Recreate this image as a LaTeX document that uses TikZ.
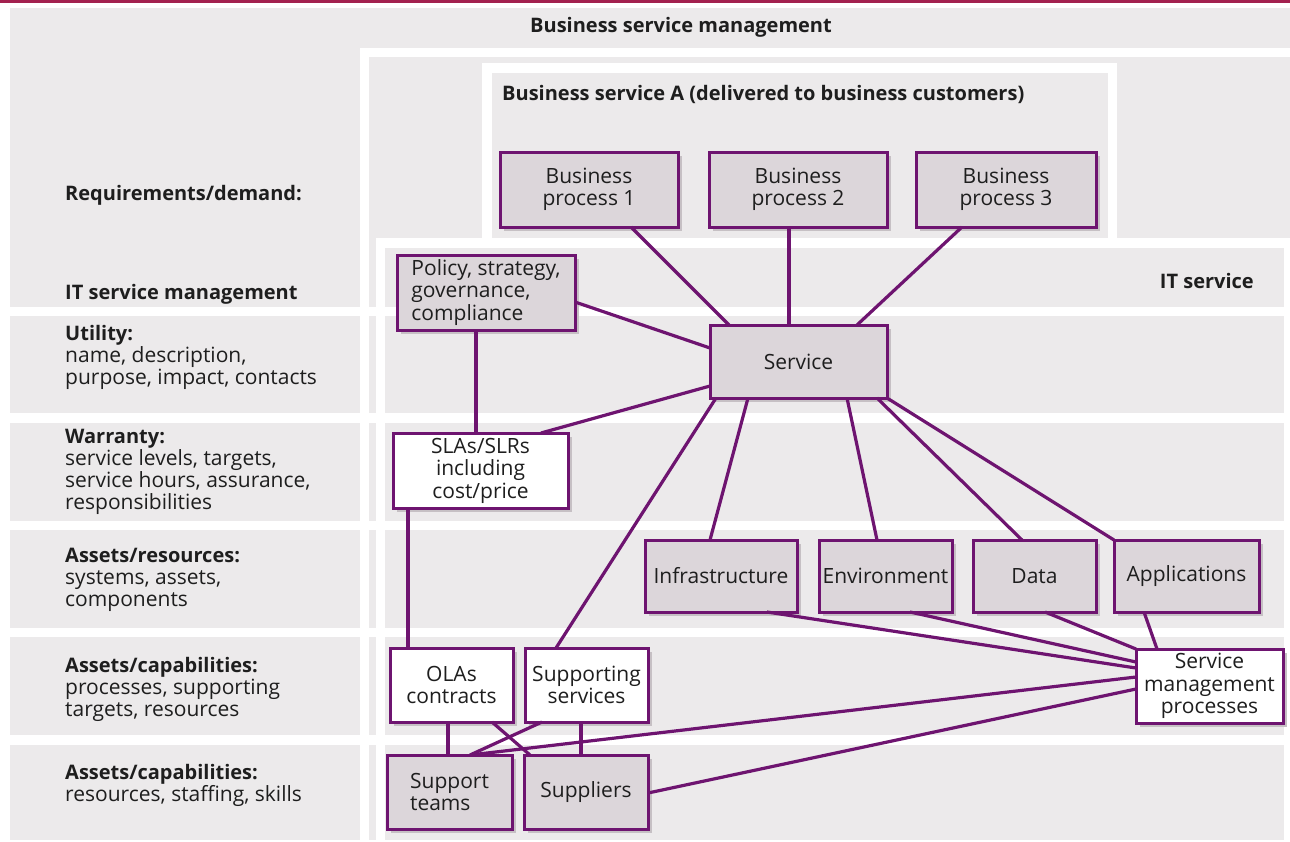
\documentclass[tikz,border=0pt]{standalone}
\usepackage{fontspec}
\setmainfont{Open Sans}
\usetikzlibrary{shadows}
\definecolor{bg}{HTML}{ECEAEB}
\definecolor{boxfill}{HTML}{DCD6DA}
\definecolor{purp}{HTML}{6E1470}
\definecolor{shad}{HTML}{C6C0C4}
\definecolor{crim}{HTML}{A3214F}
\definecolor{txt}{HTML}{1E1E1E}
\newcommand{\bl}[1]{{\bfseries\fontsize{20}{22}\selectfont #1}}
\begin{document}
\begin{tikzpicture}[x=1pt,y=-1pt,
  box/.style={draw=purp, line width=3pt, fill=boxfill, inner sep=0pt, outer sep=0pt,
    align=center, font=\fontsize{21}{22.5}\selectfont, text=txt,
    drop shadow={fill=shad, opacity=1, shadow xshift=4pt, shadow yshift=-4pt}},
  wbox/.style={box, fill=white},
  link/.style={draw=purp, line width=3.2pt},
  lbl/.style={anchor=base west, align=left, inner sep=0pt, font=\fontsize{21}{21.7}\selectfont, text=txt},
  hdr/.style={inner sep=0pt, font=\bfseries\fontsize{20}{22}\selectfont, text=txt},
]
\useasboundingbox (0,0) rectangle (1290,841);
% background bands
\fill[bg] (10,8) rectangle (1290,238);
\fill[bg] (10,238) rectangle (1284,307);
\foreach \a/\b in {316/413,423/521,530/628,637/735,745/840}
  \fill[bg] (10,\a) rectangle (1284,\b);
\fill[white] (360,48) rectangle (1290,57);
\fill[white] (360,48) rectangle (369,841);
\fill[white] (376,238) rectangle (1290,248);
\fill[white] (376,238) rectangle (385,841);
\fill[white] (482,63) rectangle (1117,238);
\fill[bg] (492,73) rectangle (1108,238);
\draw[crim, line width=2.5pt] (0,1.5) -- (1290,1.5);

% headings and left labels
\node[hdr] (tbsm) at (681,27) {Business service management};
\node[hdr, anchor=base west] (tbsa) at (502,100) {Business service A (delivered to business customers)};
\node[hdr, anchor=base east] (tits) at (1254,288) {IT service};
\node[hdr, anchor=base west] (lreq) at (65,200) {Requirements/demand:};
\node[hdr, anchor=base west] (litsm) at (65,299) {IT service management};
\node[lbl] (lutil) at (65,384) {\bl{Utility:}\\name, description,\\purpose, impact, contacts};
\node[lbl] (lwarr) at (65,509) {\bl{Warranty:}\\service levels, targets,\\service hours, assurance,\\responsibilities};
\node[lbl] (lares) at (65,606) {\bl{Assets/resources:}\\systems, assets,\\components};
\node[lbl] (lacap) at (65,716) {\bl{Assets/capabilities:}\\processes, supporting\\targets, resources};
\node[lbl] (lacap2) at (65,801) {\bl{Assets/capabilities:}\\resources, staffing, skills};

% boxes
\node[box, minimum width=178pt, minimum height=75pt] (bp1) at (589,189.5) {Business\\process 1};
\node[box, minimum width=178pt, minimum height=75pt] (bp2) at (798,189.5) {Business\\process 2};
\node[box, minimum width=180pt, minimum height=75pt] (bp3) at (1006,189.5) {Business\\process 3};
\node[box, minimum width=178pt, minimum height=75pt, align=left] (pol) at (486,292.5) {Policy, strategy,\\governance,\\compliance};
\node[box, minimum width=177pt, minimum height=73pt] (svc) at (798.5,361.5) {Service};
\node[wbox, minimum width=175pt, minimum height=75pt] (sla) at (480.5,470.5) {SLAs/SLRs\\including\\cost/price};
\node[box, minimum width=152pt, minimum height=72pt] (infra) at (721,576) {Infrastructure};
\node[box, minimum width=133pt, minimum height=72pt] (env) at (885.5,576) {Environment};
\node[box, minimum width=123pt, minimum height=72pt] (data) at (1034.5,576) {Data};
\node[box, minimum width=145pt, minimum height=72pt] (apps) at (1186.5,576) {Applications};
\node[wbox, minimum width=123pt, minimum height=74pt] (olas) at (451.5,685) {OLAs\\contracts};
\node[wbox, minimum width=123pt, minimum height=74pt] (supsvc) at (586.5,685) {Supporting\\services};
\node[box, minimum width=125pt, minimum height=74pt, align=left] (steams) at (449.5,792) {Support\\teams};
\node[box, minimum width=124pt, minimum height=74pt] (suppl) at (586,792) {Suppliers};
\node[wbox, minimum width=147pt, minimum height=74pt] (smp) at (1209.5,686) {Service\\management\\processes};

% connectors
\draw[link] ([xshift=42pt]bp1.south) -- ([xshift=19pt]svc.north west);
\draw[link] ([xshift=-9pt]bp2.south) -- ([xshift=-9.5pt]svc.north);
\draw[link] ([xshift=46pt]bp3.south west) -- ([xshift=-30pt]svc.north east);
\draw[link] ([yshift=-9.5pt]pol.east) -- ([yshift=13.5pt]svc.west);
\draw[link] ([xshift=-10pt]pol.south) -- ([xshift=-4.5pt]sla.north);
\draw[link] ([yshift=-24.5pt]svc.west) -- ([xshift=-27pt]sla.north east);
\draw[link] ([xshift=6pt]svc.south west) -- ([xshift=-30.5pt]supsvc.north);
\draw[link] ([xshift=38pt]svc.south west) -- ([xshift=65pt]infra.north west);
\draw[link] ([xshift=-40pt]svc.south east) -- ([xshift=58pt]env.north west);
\draw[link] ([xshift=-10pt]svc.south east) -- ([xshift=49pt]data.north west);
\draw[link] (svc.south east) -- (apps.north west);
\draw[link] ([xshift=15pt]sla.south west) -- ([xshift=18pt]olas.north west);
\draw[link] ([xshift=-30pt]infra.south east) -- ([yshift=18pt]smp.west);
\draw[link] ([xshift=-42pt]env.south east) -- ([yshift=24pt]smp.west);
\draw[link] ([xshift=72pt]data.south west) -- (smp.north west);
\draw[link] ([xshift=30pt]apps.south west) -- ([xshift=21pt]smp.north west);
\draw[link] ([yshift=9pt]smp.west) -- ([xshift=20.5pt]steams.north);
\draw[link] ([yshift=-3pt]smp.west) -- ([yshift=-1pt]suppl.east);
\draw[link] ([xshift=58pt]olas.south west) -- ([xshift=61pt]steams.north west);
\draw[link] ([xshift=-21pt]olas.south east) -- ([xshift=6pt]suppl.north west);
\draw[link] ([xshift=17pt]supsvc.south west) -- ([xshift=20.5pt]steams.north);
\draw[link] ([xshift=56pt]supsvc.south west) -- ([xshift=57pt]suppl.north west);
\end{tikzpicture}
\end{document}
